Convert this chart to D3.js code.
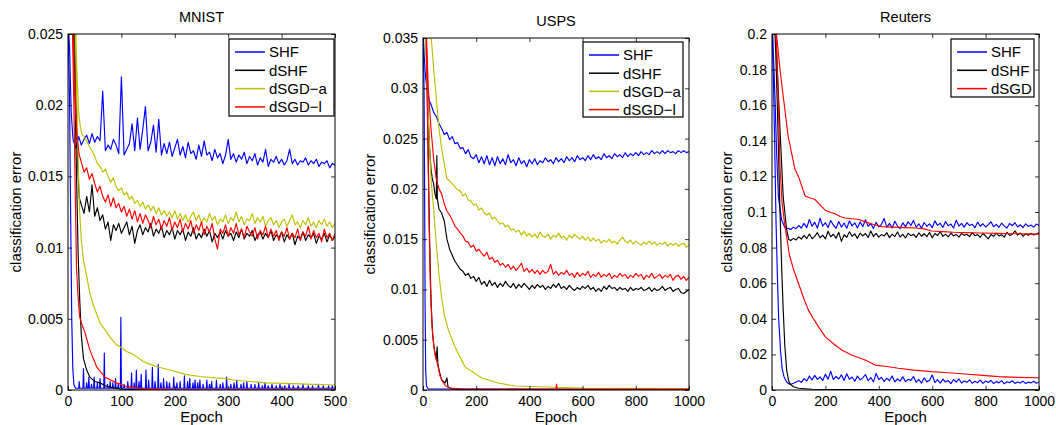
<!DOCTYPE html>
<html>
<head>
<meta charset="utf-8">
<script src="https://cdn.jsdelivr.net/npm/d3@7"></script>
<style>
  body { margin: 0; background: #fff; }
  svg { display: block; font-family: "Liberation Sans", Arial, Helvetica, sans-serif; }
</style>
</head>
<body>
<svg id="chart" width="1056" height="425"></svg>
<script>
// ---------------- data ----------------
// each curve: a few [epoch, error] points for the steep start, then noisy values on a regular epoch grid

// MNIST
var mnistEpochTicks = [0, 100, 200, 300, 400, 500];
var mnistErrorTicks = [0, 0.005, 0.01, 0.015, 0.02, 0.025];
var mnistNames = ["SHF", "dSHF", "dSGD\u2212a", "dSGD\u2212l"];

var mnistShfTestHead = [[0, .026], [3, .024], [6, .0195], [9, .0178]];
var mnistShfTest = [ // epoch 10..500 step 5
  .0175,.0170,.0178,.0172,.0176,.0179,.0173,.0180,.0174,.0178,
  .0175,.0210,.0168,.0172,.0169,.0176,.0172,.0166,.0220,.0165,
  .0169,.0173,.0187,.0168,.0191,.0169,.0183,.0199,.0168,.0174,
  .0186,.0167,.0190,.0165,.0173,.0166,.0174,.0164,.0170,.0176,
  .0165,.0171,.0163,.0174,.0166,.0168,.0162,.0172,.0164,.0175,
  .0165,.0167,.0161,.0169,.0163,.0166,.0159,.0165,.0176,.0162,
  .0166,.0160,.0165,.0162,.0167,.0159,.0164,.0161,.0166,.0158,
  .0163,.0160,.0169,.0157,.0162,.0160,.0164,.0159,.0162,.0158,
  .0161,.0169,.0159,.0162,.0158,.0161,.0160,.0163,.0158,.0161,
  .0159,.0162,.0157,.0160,.0159,.0161,.0156,.0159,.0158];
var mnistShfTrainHead = [[0, .026], [3, .020], [5, .012], [7, .005], [9, .0015], [11, .0004], [14, .00012]];
var mnistShfTrainBase = .00012;
var mnistShfTrainSpikes = [
  [21,.0006],[29,.0015],[35,.0005],[39,.0009],[44,.0004],[49,.0009],[55,.0005],[60,.0008],[68,.0026],[74,.0004],
  [79,.0006],[84,.0005],[89,.0008],[94,.0004],[99,.0051],[105,.0004],[112,.0006],[119,.0012],[124,.0005],[128,.0014],
  [133,.0006],[137,.0011],[146,.0014],[151,.0007],[158,.0016],[163,.0006],[169,.0018],[174,.0005],[179,.0008],[185,.0006],
  [190,.0005],[198,.0009],[204,.0005],[210,.0006],[218,.0010],[224,.0006],[228,.0008],[234,.0005],[238,.0007],[243,.0005],
  [247,.0007],[253,.0004],[260,.0007],[265,.0004],[269,.0006],[278,.0007],[285,.0004],[290,.0005],[297,.0009],[305,.0004],
  [311,.0005],[316,.0007],[324,.0004],[329,.0005],[335,.0006],[343,.0004],[350,.0004],[357,.0005],[364,.0003],[369,.0005],
  [375,.0003],[382,.0004],[390,.0003],[397,.0004],[406,.0003],[414,.0004],[422,.0003],[431,.0003],[440,.0004],[450,.0003],
  [458,.0003],[469,.0004],[478,.0003],[488,.0003],[495,.0003]];

var mnistDshfTestHead = [[12, .026], [15, .021], [18, .016], [21, .0135]];
var mnistDshfTest = [ // epoch 25..500 step 5
  .0130,.0124,.0136,.0125,.0144,.0122,.0128,.0119,.0123,.0113,
  .0118,.0105,.0116,.0112,.0117,.0110,.0114,.0118,.0109,.0115,
  .0103,.0112,.0116,.0109,.0114,.0111,.0117,.0108,.0113,.0110,
  .0115,.0107,.0112,.0109,.0114,.0106,.0112,.0109,.0113,.0105,
  .0111,.0108,.0114,.0106,.0110,.0107,.0113,.0108,.0112,.0104,
  .0110,.0107,.0111,.0106,.0112,.0108,.0110,.0105,.0111,.0107,
  .0113,.0106,.0110,.0108,.0112,.0105,.0109,.0111,.0106,.0110,
  .0107,.0112,.0105,.0109,.0107,.0111,.0104,.0109,.0106,.0110,
  .0102,.0108,.0106,.0111,.0105,.0109,.0107,.0110,.0103,.0108,
  .0106,.0110,.0104,.0109,.0105,.0108];
var mnistDshfTrain = [[10,.026],[13,.021],[16,.015],[19,.0095],[22,.0063],[25,.0038],[29,.0022],[35,.0014],[41,.0009],
  [50,.0006],[60,.0005],[70,.0003],[79,.0002],[100,.00005],[150,.00002],[500,.00002]];

var mnistSgdaTestHead = [[14, .026], [17, .022], [20, .0195], [23, .0185], [26, .018]];
var mnistSgdaTest = [ // epoch 30..500 step 5
  .0178,.0175,.0171,.0168,.0164,.0159,.0157,.0153,.0155,.0150,
  .0146,.0149,.0143,.0140,.0142,.0137,.0139,.0134,.0136,.0131,
  .0133,.0129,.0132,.0127,.0130,.0126,.0129,.0124,.0128,.0123,
  .0126,.0122,.0125,.0121,.0126,.0120,.0124,.0119,.0123,.0118,
  .0122,.0125,.0119,.0123,.0117,.0121,.0118,.0124,.0119,.0122,
  .0116,.0120,.0118,.0123,.0117,.0121,.0119,.0125,.0118,.0122,
  .0116,.0120,.0119,.0124,.0117,.0121,.0118,.0122,.0115,.0119,
  .0121,.0116,.0119,.0114,.0118,.0120,.0115,.0119,.0123,.0116,
  .0118,.0114,.0119,.0116,.0121,.0115,.0118,.0114,.0119,.0116,
  .0120,.0115,.0118,.0114,.0117];
var mnistSgdaTrain = [[13,.026],[16,.021],[19,.016],[22,.0124],[25,.0105],[29,.0091],[35,.0080],[41,.0068],[47,.0060],
  [54,.0053],[60,.0047],[66,.0044],[79,.0037],[90,.0032],[99,.0030],[110,.0027],[122,.0025],[141,.0020],[154,.0018],
  [170,.0016],[191,.0014],[220,.0011],[247,.00095],[275,.00085],[297,.0008],[310,.0007],[340,.0006],[372,.0005],
  [420,.00045],[460,.0004],[500,.00035]];

var mnistSgdlTestHead = [[8, .026], [12, .022], [15, .019], [18, .0175], [21, .0165]];
var mnistSgdlTest = [ // epoch 25..500 step 5
  .0160,.0153,.0156,.0148,.0152,.0145,.0139,.0143,.0136,.0132,
  .0137,.0129,.0135,.0128,.0131,.0125,.0129,.0122,.0127,.0120,
  .0126,.0118,.0124,.0117,.0123,.0119,.0114,.0122,.0116,.0120,
  .0113,.0119,.0115,.0121,.0112,.0118,.0114,.0120,.0111,.0117,
  .0113,.0119,.0110,.0116,.0112,.0118,.0109,.0115,.0111,.0117,
  .0106,.0099,.0113,.0110,.0116,.0108,.0114,.0110,.0117,.0109,
  .0113,.0107,.0115,.0111,.0108,.0114,.0106,.0112,.0109,.0115,
  .0107,.0113,.0108,.0112,.0105,.0111,.0108,.0114,.0106,.0110,
  .0107,.0113,.0105,.0111,.0108,.0115,.0106,.0112,.0107,.0110,
  .0104,.0113,.0107,.0110,.0105,.0110];
var mnistSgdlTrain = [[8,.026],[11,.020],[14,.013],[16,.0085],[19,.0065],[22,.0051],[27,.0045],[32,.0040],[41,.0028],
  [54,.0016],[69,.0009],[91,.0005],[110,.00025],[140,.0001],[200,.00003],[500,.00002]];

// USPS
var uspsEpochTicks = [0, 200, 400, 600, 800, 1000];
var uspsErrorTicks = [0, 0.005, 0.01, 0.015, 0.02, 0.025, 0.03, 0.035];
var uspsNames = ["SHF", "dSHF", "dSGD\u2212a", "dSGD\u2212l"];

var uspsShfTestHead = [[0,.036],[5,.033],[10,.031],[15,.030],[20,.0292],[26,.0286]];
var uspsShfTest = [ // epoch 30..1000 step 10
  .0284,.0276,.0272,.0265,.0260,.0254,.0256,.0249,.0252,.0245,
  .0246,.0240,.0241,.0235,.0239,.0232,.0230,.0234,.0226,.0232,
  .0225,.0233,.0224,.0231,.0223,.0232,.0225,.0230,.0224,.0234,
  .0226,.0229,.0223,.0231,.0225,.0228,.0222,.0229,.0225,.0230,
  .0224,.0228,.0226,.0231,.0227,.0229,.0225,.0231,.0227,.0230,
  .0226,.0232,.0228,.0231,.0227,.0233,.0229,.0231,.0228,.0233,
  .0229,.0234,.0230,.0232,.0229,.0235,.0231,.0233,.0230,.0235,
  .0232,.0234,.0231,.0236,.0232,.0235,.0233,.0236,.0233,.0237,
  .0234,.0236,.0234,.0238,.0235,.0237,.0235,.0238,.0235,.0238,
  .0236,.0237,.0235,.0238,.0236,.0238,.0236,.0237];
var uspsShfTrain = [[0,.036],[4,.030],[6,.020],[8,.008],[10,.002],[13,.0004],[20,.0001],[1000,.00005]];

var uspsDshfTestHead = [[10,.036],[15,.031],[20,.027],[25,.024],[30,.022],[35,.021],[40,.0205],[45,.0195],[50,.019],
  [52,.0233],[54,.019],[60,.018],[70,.0176],[80,.0168],[90,.0150]];
var uspsDshfTest = [ // epoch 100..1000 step 10
  .0140,.0134,.0128,.0124,.0120,.0118,.0114,.0116,.0111,.0113,
  .0108,.0112,.0105,.0108,.0103,.0109,.0104,.0107,.0102,.0106,
  .0103,.0108,.0104,.0102,.0106,.0101,.0105,.0102,.0106,.0103,
  .0100,.0104,.0101,.0105,.0102,.0104,.0100,.0103,.0101,.0105,
  .0102,.0106,.0101,.0103,.0100,.0104,.0101,.0099,.0102,.0100,
  .0103,.0101,.0104,.0100,.0102,.0098,.0101,.0098,.0103,.0100,
  .0104,.0101,.0102,.0099,.0102,.0100,.0101,.0098,.0102,.0099,
  .0101,.0100,.0102,.0099,.0100,.0102,.0098,.0101,.0099,.0100,
  .0103,.0099,.0101,.0102,.0098,.0100,.0101,.0097,.0096,.0098,
  .0100];
var uspsDshfTrain = [[12,.036],[18,.026],[24,.016],[30,.009],[36,.0055],[42,.0042],[46,.0035],[50,.0030],[53,.0043],
  [56,.0026],[62,.0018],[70,.0010],[83,.0007],[90,.0012],[94,.0003],[110,.0001],[150,.00005],[1000,.00003]];

var uspsSgdaTestHead = [[28,.036],[40,.032],[50,.029],[60,.026],[70,.024],[80,.0225],[90,.021]];
var uspsSgdaTest = [ // epoch 100..1000 step 10
  .0208,.0205,.0202,.0199,.0198,.0193,.0195,.0189,.0188,.0184,
  .0185,.0179,.0181,.0176,.0174,.0176,.0170,.0172,.0168,.0165,
  .0166,.0162,.0164,.0159,.0160,.0157,.0159,.0154,.0158,.0153,
  .0156,.0152,.0155,.0151,.0157,.0153,.0152,.0155,.0150,.0154,
  .0152,.0156,.0151,.0153,.0149,.0154,.0151,.0155,.0152,.0150,
  .0153,.0149,.0152,.0148,.0151,.0148,.0150,.0146,.0149,.0147,
  .0150,.0146,.0148,.0145,.0149,.0152,.0148,.0146,.0149,.0145,
  .0148,.0146,.0144,.0147,.0145,.0148,.0145,.0147,.0144,.0146,
  .0145,.0147,.0143,.0146,.0144,.0146,.0143,.0145,.0146,.0142,
  .0144];
var uspsSgdaTrain = [[8,.036],[14,.031],[20,.027],[30,.021],[40,.018],[50,.0145],[60,.0115],[70,.0092],[80,.0075],
  [95,.0060],[120,.0043],[158,.0023],[221,.0012],[283,.0007],[346,.0004],[470,.0003],[600,.0002],[1000,.00015]];

var uspsSgdlTestHead = [[12,.036],[20,.030],[30,.026],[40,.023],[50,.021],[60,.020],[70,.0195],[80,.0185],[90,.0178]];
var uspsSgdlTest = [ // epoch 100..1000 step 10
  .0174,.0169,.0163,.0160,.0156,.0153,.0148,.0147,.0142,.0144,
  .0138,.0140,.0136,.0133,.0137,.0130,.0132,.0127,.0129,.0124,
  .0126,.0122,.0125,.0120,.0123,.0119,.0122,.0126,.0118,.0121,
  .0117,.0120,.0116,.0119,.0115,.0119,.0116,.0118,.0125,.0115,
  .0118,.0114,.0117,.0115,.0119,.0114,.0116,.0112,.0117,.0113,
  .0116,.0114,.0118,.0112,.0115,.0113,.0117,.0112,.0115,.0113,
  .0116,.0111,.0114,.0112,.0116,.0113,.0115,.0111,.0114,.0112,
  .0116,.0113,.0115,.0110,.0114,.0112,.0116,.0111,.0113,.0115,
  .0111,.0114,.0112,.0115,.0109,.0113,.0114,.0110,.0113,.0109,
  .0112];
var uspsSgdlTrain = [[12,.036],[17,.027],[22,.018],[27,.011],[33,.0068],[40,.0045],[45,.0036],[55,.0025],[64,.0014],
  [75,.0008],[85,.0004],[100,.0002],[150,.0001],[500,.0001],[502,.0006],[504,.0001],[1000,.00008]];

// Reuters
var reutersEpochTicks = [0, 200, 400, 600, 800, 1000];
var reutersErrorTicks = [0, 0.02, 0.04, 0.06, 0.08, 0.1, 0.12, 0.14, 0.16, 0.18, 0.2];
var reutersNames = ["SHF", "dSHF", "dSGD"];

var reutersShfTestHead = [[0,.21],[5,.19],[11,.165],[17,.135],[24,.1086],[36,.0955],[49,.091]];
var reutersShfTest = [ // epoch 60..1000 step 10
  .0908,.0902,.0915,.0906,.0924,.0910,.0936,.0912,.0958,.0920,
  .0943,.0909,.0965,.0921,.0940,.0913,.0952,.0926,.0908,.0947,
  .0915,.0938,.0909,.0950,.0922,.0939,.0910,.0944,.0918,.0956,
  .0920,.0935,.0908,.0942,.0916,.0931,.0964,.0914,.0936,.0910,
  .0948,.0921,.0907,.0939,.0918,.0945,.0924,.0953,.0915,.0934,
  .0909,.0941,.0920,.0933,.0912,.0950,.0925,.0937,.0913,.0946,
  .0923,.0932,.0910,.0954,.0921,.0936,.0915,.0940,.0924,.0931,
  .0912,.0943,.0920,.0934,.0916,.0929,.0945,.0918,.0930,.0914,
  .0937,.0922,.0910,.0935,.0923,.0940,.0916,.0928,.0912,.0933,
  .0919,.0927,.0915,.0932,.0924];
var reutersShfTrain = [[0,.21],[6,.17],[11,.13],[15,.095],[20,.065],[25,.040],[32,.022],[38,.012],[45,.0075],
  [55,.0045],[65,.0033],[75,.0035]];
var reutersShfTrainTail = [ // epoch 80..1000 step 10
  .0038,.0045,.0052,.0043,.0064,.0051,.0078,.0056,.0082,.0060,
  .0074,.0053,.0089,.0061,.0105,.0058,.0076,.0062,.0085,.0054,
  .0091,.0060,.0073,.0049,.0078,.0057,.0068,.0087,.0052,.0070,
  .0046,.0093,.0059,.0071,.0048,.0066,.0053,.0079,.0045,.0062,
  .0050,.0074,.0047,.0060,.0054,.0076,.0044,.0059,.0039,.0068,
  .0046,.0055,.0084,.0042,.0058,.0038,.0061,.0045,.0053,.0036,
  .0059,.0044,.0062,.0039,.0051,.0043,.0057,.0038,.0049,.0041,
  .0056,.0037,.0050,.0042,.0054,.0036,.0048,.0040,.0053,.0035,
  .0046,.0041,.0052,.0037,.0045,.0039,.0050,.0036,.0044,.0040,
  .0049,.0038,.0045];

var reutersDshfTestHead = [[10,.21],[17,.19],[30,.146],[42,.1086],[55,.0899],[63,.0845]];
var reutersDshfTest = [ // epoch 70..1000 step 10
  .0840,.0852,.0843,.0860,.0848,.0869,.0851,.0876,.0850,.0863,
  .0884,.0855,.0870,.0849,.0892,.0861,.0875,.0853,.0886,.0835,
  .0872,.0858,.0889,.0864,.0877,.0852,.0881,.0866,.0879,.0857,
  .0893,.0862,.0880,.0859,.0873,.0865,.0884,.0856,.0876,.0862,
  .0888,.0860,.0874,.0854,.0881,.0867,.0875,.0858,.0883,.0864,
  .0878,.0861,.0886,.0855,.0879,.0868,.0890,.0863,.0876,.0860,
  .0882,.0866,.0874,.0859,.0880,.0869,.0875,.0862,.0884,.0867,
  .0873,.0858,.0879,.0865,.0849,.0874,.0863,.0881,.0866,.0872,
  .0859,.0886,.0868,.0875,.0894,.0870,.0882,.0864,.0877,.0869,
  .0880,.0871,.0876,.0883];
var reutersDshfTrain = [[8,.21],[14,.19],[20,.16],[25,.13],[30,.10],[36,.07],[42,.045],[48,.025],[55,.011],[62,.0055],
  [67,.0035],[80,.0018],[100,.001],[150,.0004],[300,.0002],[1000,.0001]];

var reutersSgdTest = [[12,.21],[17,.20],[30,.18],[42,.165],[61,.142],[86,.124],[99,.120],[124,.109],[140,.108],[161,.107],
  [180,.104],[199,.101],[215,.100],[236,.099],[255,.0975],[273,.0966],[300,.0962],[325,.0958],[348,.0946],[380,.0930],
  [411,.0918],[450,.0915],[500,.0912],[536,.0910],[570,.0905],[598,.0893],[640,.0890],[680,.0886],[723,.0884],
  [780,.0882],[848,.0880],[900,.0878],[950,.0877],[1000,.0876]];
var reutersSgdTrain = [[10,.21],[18,.19],[24,.16],[30,.125],[38,.105],[46,.095],[55,.086],[65,.076],[80,.068],[99,.060],
  [120,.051],[136,.045],[155,.040],[174,.0356],[199,.030],[230,.026],[261,.0225],[300,.0195],[349,.0169],[386,.014],
  [430,.0132],[473,.0122],[530,.0112],[598,.0103],[660,.0097],[723,.009],[790,.0082],[848,.0075],[920,.0071],[1000,.0069]];

// ---------------- helpers ----------------
var BLUE = "#0000ff", BLACK = "#000000", YELLOW = "#bfbf00", RED = "#ff0000";

function grid(head, start, step, vals) {
  return head.concat(vals.map(function(v, i) { return [start + i * step, v]; }));
}
function spiky(head, base, spikes, end) {
  var pts = head.slice();
  spikes.forEach(function(s) {
    pts.push([s[0] - 1, base], [s[0], s[1]], [s[0] + 1, base]);
  });
  pts.push([end, base]);
  return pts;
}

var panels = [
  {
    id: "mnist", title: "MNIST", left: 68, top: 34, w: 267, h: 356, xMax: 500, yMax: 0.025,
    xTicks: mnistEpochTicks, yTicks: mnistErrorTicks, ylabX: 16,
    legend: { names: mnistNames, colors: [BLUE, BLACK, YELLOW, RED], x: 229, y: 39, w: 105, h: 77, dy: 18.3 },
    series: [
      { c: BLUE, p: grid(mnistShfTestHead, 10, 5, mnistShfTest) },
      { c: BLUE, p: spiky(mnistShfTrainHead, mnistShfTrainBase, mnistShfTrainSpikes, 500) },
      { c: BLACK, p: grid(mnistDshfTestHead, 25, 5, mnistDshfTest) },
      { c: BLACK, p: mnistDshfTrain },
      { c: YELLOW, p: grid(mnistSgdaTestHead, 30, 5, mnistSgdaTest) },
      { c: YELLOW, p: mnistSgdaTrain },
      { c: RED, p: grid(mnistSgdlTestHead, 25, 5, mnistSgdlTest) },
      { c: RED, p: mnistSgdlTrain }
    ]
  },
  {
    id: "usps", title: "USPS", left: 423, top: 38, w: 266, h: 352, xMax: 1000, yMax: 0.035,
    xTicks: uspsEpochTicks, yTicks: uspsErrorTicks, ylabX: 370,
    legend: { names: uspsNames, colors: [BLUE, BLACK, YELLOW, RED], x: 583, y: 42, w: 100, h: 75, dy: 18.2 },
    series: [
      { c: BLUE, p: grid(uspsShfTestHead, 30, 10, uspsShfTest) },
      { c: BLUE, p: uspsShfTrain },
      { c: BLACK, p: grid(uspsDshfTestHead, 100, 10, uspsDshfTest) },
      { c: BLACK, p: uspsDshfTrain },
      { c: YELLOW, p: grid(uspsSgdaTestHead, 100, 10, uspsSgdaTest) },
      { c: YELLOW, p: uspsSgdaTrain },
      { c: RED, p: grid(uspsSgdlTestHead, 100, 10, uspsSgdlTest) },
      { c: RED, p: uspsSgdlTrain }
    ]
  },
  {
    id: "reuters", title: "Reuters", left: 772, top: 34, w: 267, h: 356, xMax: 1000, yMax: 0.2,
    xTicks: reutersEpochTicks, yTicks: reutersErrorTicks, ylabX: 727,
    legend: { names: reutersNames, colors: [BLUE, BLACK, RED], x: 951, y: 39, w: 83, h: 58, dy: 18.3 },
    series: [
      { c: BLUE, p: grid(reutersShfTestHead, 60, 10, reutersShfTest) },
      { c: BLUE, p: grid(reutersShfTrain, 80, 10, reutersShfTrainTail) },
      { c: BLACK, p: grid(reutersDshfTestHead, 70, 10, reutersDshfTest) },
      { c: BLACK, p: reutersDshfTrain },
      { c: RED, p: reutersSgdTest },
      { c: RED, p: reutersSgdTrain }
    ]
  }
];

// ---------------- drawing ----------------
var svg = d3.select("#chart");
var fmt = d3.format("~g");
var defs = svg.append("defs");

panels.forEach(function(p) {
  var x = d3.scaleLinear().domain([0, p.xMax]).range([0, p.w]);
  var y = d3.scaleLinear().domain([0, p.yMax]).range([p.h, 0]);

  defs.append("clipPath").attr("id", "clip-" + p.id)
    .append("rect").attr("width", p.w).attr("height", p.h);

  var g = svg.append("g").attr("transform", "translate(" + p.left + "," + p.top + ")");

  var line = d3.line()
    .x(function(d) { return x(d[0]); })
    .y(function(d) { return y(d[1]); });

  g.append("g").attr("clip-path", "url(#clip-" + p.id + ")")
    .selectAll("path")
    .data(p.series)
    .join("path")
    .attr("d", function(d) { return line(d.p); })
    .attr("fill", "none")
    .attr("stroke", function(d) { return d.c; })
    .attr("stroke-width", 1.15)
    .attr("stroke-linejoin", "round");

  // axes, ticks pointing inward on all four sides
  var xb = g.append("g").attr("transform", "translate(0," + p.h + ")")
    .call(d3.axisBottom(x).tickValues(p.xTicks).tickFormat(fmt).tickSize(-4).tickPadding(6));
  var yl = g.append("g")
    .call(d3.axisLeft(y).tickValues(p.yTicks).tickFormat(fmt).tickSize(-4).tickPadding(5));
  var xt = g.append("g")
    .call(d3.axisTop(x).tickValues(p.xTicks).tickFormat("").tickSize(-4));
  var yr = g.append("g").attr("transform", "translate(" + p.w + ",0)")
    .call(d3.axisRight(y).tickValues(p.yTicks).tickFormat("").tickSize(-4));

  [xb, yl, xt, yr].forEach(function(a) {
    a.select(".domain").remove();
    a.selectAll(".tick line").attr("stroke", "#000").attr("stroke-width", 0.8);
    a.selectAll(".tick text").attr("font-size", 14).attr("fill", "#000")
      .attr("font-family", "'Liberation Sans', Arial, sans-serif");
  });

  g.append("rect").attr("width", p.w).attr("height", p.h)
    .attr("fill", "none").attr("stroke", "#000").attr("stroke-width", 1);

  // titles and labels
  svg.append("text").attr("x", p.left + p.w / 2).attr("y", p.top - 12)
    .attr("text-anchor", "middle").attr("font-size", 14.5).text(p.title);
  svg.append("text").attr("x", p.left + p.w / 2).attr("y", 422)
    .attr("text-anchor", "middle").attr("font-size", 15).text("Epoch");
  svg.append("text")
    .attr("transform", "translate(" + (p.ylabX + 5) + "," + (p.top + p.h / 2) + ") rotate(-90)")
    .attr("text-anchor", "middle").attr("font-size", 15).text("classification error");

  // legend
  var L = p.legend;
  var items = L.names.map(function(n, i) { return { name: n, color: L.colors[i] }; });
  var lg = svg.append("g").attr("transform", "translate(" + L.x + "," + L.y + ")");
  lg.append("rect").attr("width", L.w).attr("height", L.h)
    .attr("fill", "#fff").attr("stroke", "#000").attr("stroke-width", 1.2);
  var rows = lg.selectAll("g.row").data(items).join("g").attr("class", "row")
    .attr("transform", function(d, i) { return "translate(0," + (13 + i * L.dy) + ")"; });
  rows.append("line").attr("x1", 6).attr("x2", 36)
    .attr("stroke", function(d) { return d.color; }).attr("stroke-width", 1.5);
  rows.append("text").attr("x", 40).attr("dy", "0.36em").attr("font-size", 15)
    .text(function(d) { return d.name; });
});
</script>
</body>
</html>
